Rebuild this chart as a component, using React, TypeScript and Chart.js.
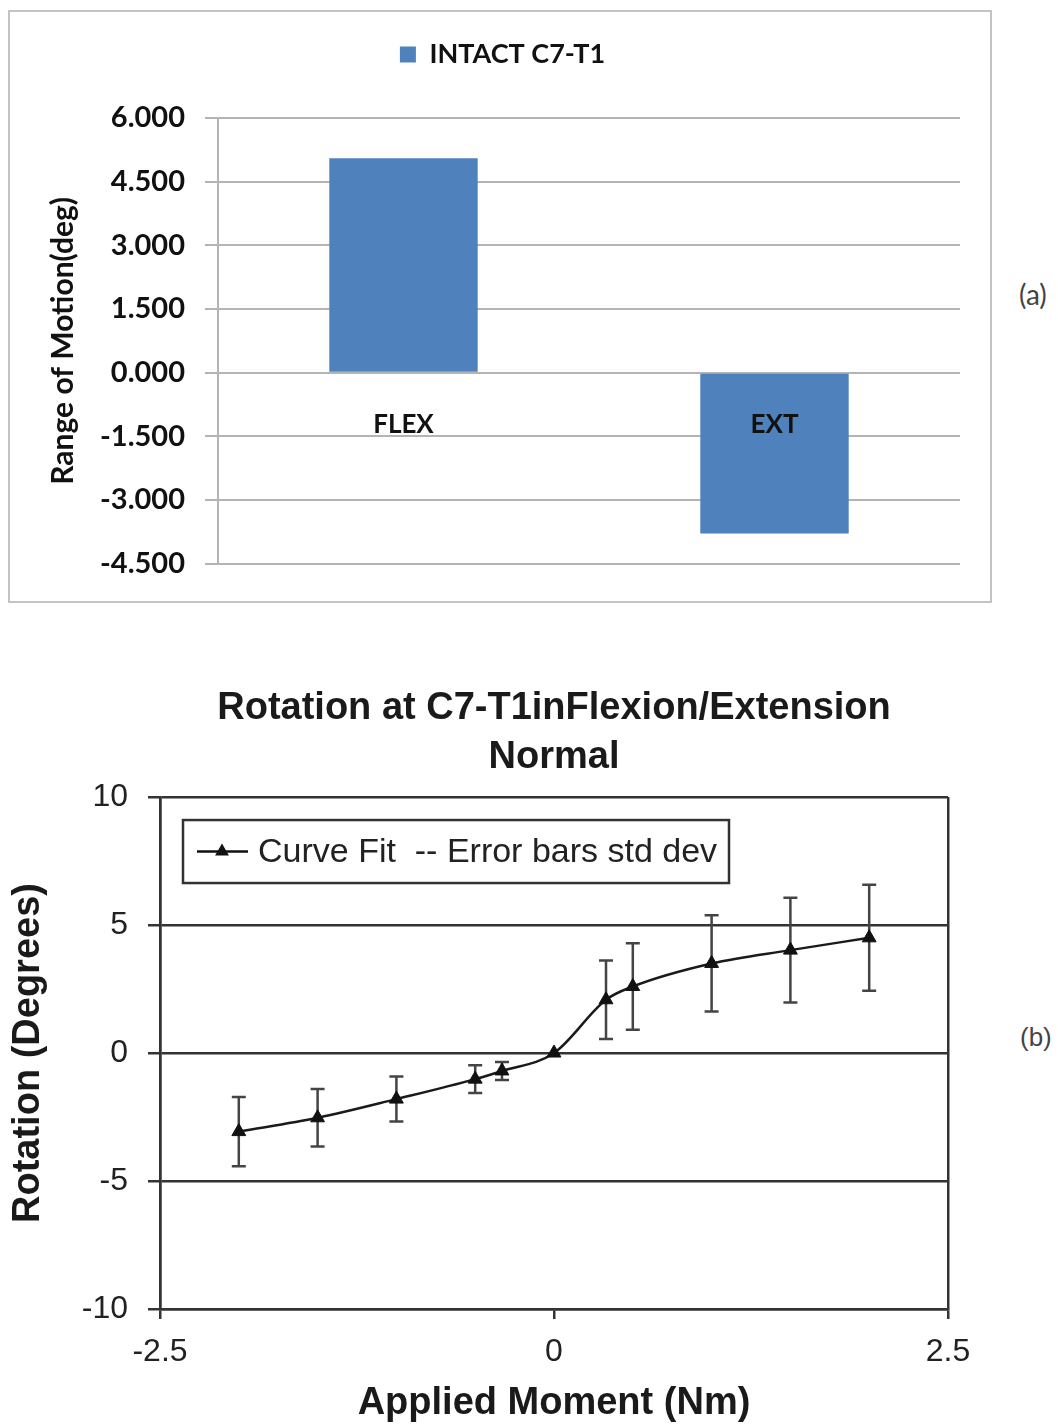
import React, { useEffect, useRef } from 'react';
import { Chart, registerables } from 'chart.js';

Chart.register(...registerables);

// ---------- Data: chart (a) ----------
const barCategories = ['FLEX', 'EXT'];
const barValues = [5.05, -3.79];
const barSeriesLabel = 'INTACT C7-T1';
const barAxisTitle = 'Range of Motion(deg)';
const barTickMin = -4.5;
const barTickMax = 6;
const barTickStep = 1.5;

// ---------- Data: chart (b) ----------
const momentX = [-2, -1.5, -1, -0.5, -0.33, 0, 0.33, 0.5, 1, 1.5, 2];
const rotationY = [-3.07, -2.53, -1.8, -1.02, -0.7, 0, 2.08, 2.6, 3.5, 4.02, 4.5];
const rotationStd = [1.35, 1.12, 0.88, 0.54, 0.35, 0, 1.53, 1.69, 1.88, 2.05, 2.07];
const lineTitle = ['Rotation at C7-T1inFlexion/Extension', 'Normal'];
const lineXTitle = 'Applied Moment (Nm)';
const lineYTitle = 'Rotation (Degrees)';
const lineLegendText = 'Curve Fit  -- Error bars std dev';
const lineXTicks = { min: -2.5, max: 2.5, step: 2.5 };
const lineYTicks = { min: -10, max: 10, step: 5 };

const TOP_FONT = "Lato, 'Liberation Sans', Arial, sans-serif";
const BOT_FONT = "'Liberation Sans', Arial, Helvetica, sans-serif";

function BarChart() {
  const ref = useRef<HTMLCanvasElement>(null);
  useEffect(() => {
    const gridColor = '#b4b4b4';
    const legendSpacer = {
      id: 'legendSpacer',
      beforeLayout(chart: any) {
        const lg = chart.legend;
        if (lg && !lg._patched) {
          const f = lg.fit;
          lg.fit = function () {
            f.call(this);
            this.height = 87;
          };
          lg._patched = true;
        }
      },
    };
    const categoryLabels = {
      id: 'categoryLabels',
      afterDatasetsDraw(chart: any) {
        const { ctx } = chart;
        const xs = chart.scales.x;
        const ys = chart.scales.y;
        const y0 = ys.getPixelForValue(0) + 52;
        ctx.save();
        ctx.font = `bold 26px ${TOP_FONT}`;
        ctx.fillStyle = '#111';
        ctx.textAlign = 'center';
        ctx.textBaseline = 'middle';
        barCategories.forEach((c, i) => {
          ctx.fillText(c, xs.getPixelForValue(i), y0);
        });
        ctx.restore();
      },
    };
    const chart = new Chart(ref.current!, {
      type: 'bar',
      data: {
        labels: barCategories,
        datasets: [
          {
            label: barSeriesLabel,
            data: barValues,
            backgroundColor: '#4f81bd',
            borderColor: '#4f81bd',
            borderWidth: 0,
            barPercentage: 0.4,
            categoryPercentage: 1,
          },
        ],
      },
      options: {
        responsive: false,
        animation: false,
        events: [],
        layout: { padding: { left: 35, right: 30, top: 19, bottom: 28 } },
        plugins: {
          tooltip: { enabled: false },
          legend: {
            display: true,
            position: 'top',
            labels: {
              boxWidth: 16,
              boxHeight: 16,
              padding: 10,
              color: '#111',
              font: { family: TOP_FONT, size: 27, weight: 'bold' },
            },
          },
        },
        scales: {
          x: { display: false },
          y: {
            min: barTickMin,
            max: barTickMax,
            afterFit: (s: any) => {
              s.width = 173;
            },
            ticks: {
              stepSize: barTickStep,
              padding: 20,
              color: '#111',
              font: { family: TOP_FONT, size: 29, weight: 'bold' },
              callback: (v: any) => Number(v).toFixed(3),
            },
            grid: {
              color: gridColor,
              lineWidth: 2,
              tickLength: 13,
              tickColor: gridColor,
              drawTicks: true,
            },
            border: { display: true, color: gridColor, width: 2 },
            title: {
              display: true,
              text: barAxisTitle,
              color: '#111',
              padding: { top: 0, bottom: 0 },
              font: { family: TOP_FONT, size: 30, weight: 'bold' },
            },
          },
        },
      },
      plugins: [legendSpacer, categoryLabels],
    } as any);
    return () => chart.destroy();
  }, []);
  return (
    <canvas
      ref={ref}
      width={980}
      height={589}
      style={{ position: 'absolute', left: 10, top: 12, width: 980, height: 589 }}
    />
  );
}

function LineChart() {
  const ref = useRef<HTMLCanvasElement>(null);
  useEffect(() => {
    const dark = '#333';
    const errorBars = {
      id: 'errorBars',
      beforeDatasetsDraw(chart: any) {
        const { ctx } = chart;
        const xs = chart.scales.x;
        const ys = chart.scales.y;
        ctx.save();
        ctx.strokeStyle = '#444';
        ctx.lineWidth = 2.5;
        momentX.forEach((mx, i) => {
          const sd = rotationStd[i];
          if (!sd) return;
          const px = xs.getPixelForValue(mx);
          const top = ys.getPixelForValue(rotationY[i] + sd);
          const bot = ys.getPixelForValue(rotationY[i] - sd);
          ctx.beginPath();
          ctx.moveTo(px, top);
          ctx.lineTo(px, bot);
          ctx.moveTo(px - 7, top);
          ctx.lineTo(px + 7, top);
          ctx.moveTo(px - 7, bot);
          ctx.lineTo(px + 7, bot);
          ctx.stroke();
        });
        ctx.restore();
      },
    };
    const boxLegend = {
      id: 'boxLegend',
      afterDraw(chart: any) {
        const { ctx, chartArea } = chart;
        const left = chartArea.left + 23;
        const top = chartArea.top + 23;
        const w = 546;
        const h = 63;
        const cy = top + h / 2;
        ctx.save();
        ctx.fillStyle = '#fff';
        ctx.fillRect(left, top, w, h);
        ctx.strokeStyle = '#333';
        ctx.lineWidth = 2.5;
        ctx.strokeRect(left, top, w, h);
        ctx.strokeStyle = '#111';
        ctx.lineWidth = 2.5;
        ctx.beginPath();
        ctx.moveTo(left + 14, cy);
        ctx.lineTo(left + 65, cy);
        ctx.stroke();
        const tx = left + 39;
        const r = 8;
        ctx.fillStyle = '#111';
        ctx.beginPath();
        ctx.moveTo(tx, cy - r);
        ctx.lineTo(tx + r * 0.866, cy + r * 0.5);
        ctx.lineTo(tx - r * 0.866, cy + r * 0.5);
        ctx.closePath();
        ctx.fill();
        ctx.font = `34px ${BOT_FONT}`;
        ctx.fillStyle = '#222';
        ctx.textAlign = 'left';
        ctx.textBaseline = 'middle';
        ctx.fillText(lineLegendText, left + 75, cy + 1);
        ctx.restore();
      },
    };
    const chart = new Chart(ref.current!, {
      type: 'line',
      data: {
        datasets: [
          {
            label: 'Curve Fit',
            data: momentX.map((x, i) => ({ x, y: rotationY[i] })),
            borderColor: '#1a1a1a',
            borderWidth: 2.5,
            pointStyle: 'triangle',
            pointRadius: 8,
            pointBackgroundColor: '#111',
            pointBorderColor: '#111',
            pointBorderWidth: 1,
            cubicInterpolationMode: 'monotone',
            fill: false,
          },
        ],
      },
      options: {
        responsive: false,
        animation: false,
        events: [],
        layout: { padding: { left: 6, right: 52, top: 0, bottom: 0 } },
        plugins: {
          legend: { display: false },
          tooltip: { enabled: false },
          title: {
            display: true,
            text: lineTitle,
            fullSize: false,
            color: '#1a1a1a',
            font: { family: BOT_FONT, size: 38, weight: 'bold', lineHeight: 1.29 },
            padding: { top: 44, bottom: 15 },
          },
        },
        scales: {
          x: {
            type: 'linear',
            min: lineXTicks.min,
            max: lineXTicks.max,
            afterFit: (s: any) => {
              s.height = 118;
            },
            ticks: {
              stepSize: lineXTicks.step,
              padding: 14,
              color: '#222',
              font: { family: BOT_FONT, size: 32 },
            },
            grid: {
              color: (c: any) => (c.tick && c.tick.value === 0 ? 'rgba(0,0,0,0)' : dark),
              lineWidth: 2.5,
              tickLength: 10,
              tickColor: dark,
            },
            border: { display: true, color: dark, width: 2.5 },
            title: {
              display: true,
              text: lineXTitle,
              color: '#1a1a1a',
              padding: { top: 0, bottom: 1 },
              font: { family: BOT_FONT, size: 38, weight: 'bold' },
            },
          },
          y: {
            type: 'linear',
            min: lineYTicks.min,
            max: lineYTicks.max,
            afterFit: (s: any) => {
              s.width = 154;
            },
            ticks: {
              stepSize: lineYTicks.step,
              padding: 20,
              color: '#222',
              font: { family: BOT_FONT, size: 32 },
            },
            grid: {
              color: dark,
              lineWidth: 2.5,
              tickLength: 12,
              tickColor: dark,
            },
            border: { display: true, color: dark, width: 2.5 },
            title: {
              display: true,
              text: lineYTitle,
              color: '#1a1a1a',
              padding: { top: 0, bottom: 0 },
              font: { family: BOT_FONT, size: 38, weight: 'bold' },
            },
          },
        },
      },
      plugins: [errorBars, boxLegend],
    } as any);
    return () => chart.destroy();
  }, []);
  return (
    <canvas
      ref={ref}
      width={1000}
      height={787}
      style={{ position: 'absolute', left: 0, top: 640, width: 1000, height: 787 }}
    />
  );
}

export default function App() {
  return (
    <div
      style={{
        position: 'absolute',
        left: 0,
        top: 0,
        width: 1058,
        height: 1427,
        background: '#fff',
        overflow: 'hidden',
      }}
    >
      <div
        style={{
          position: 'absolute',
          left: 8,
          top: 10,
          width: 984,
          height: 593,
          border: '2px solid #c4c4c4',
          boxSizing: 'border-box',
        }}
      />
      <BarChart />
      <span
        style={{
          position: 'absolute',
          left: 1019,
          top: 280,
          fontFamily: TOP_FONT,
          fontSize: 28,
          lineHeight: '28px',
          color: '#444',
        }}
      >
        (a)
      </span>
      <LineChart />
      <span
        style={{
          position: 'absolute',
          left: 1020,
          top: 1024,
          fontFamily: BOT_FONT,
          fontSize: 26,
          lineHeight: '26px',
          color: '#444',
        }}
      >
        (b)
      </span>
    </div>
  );
}
